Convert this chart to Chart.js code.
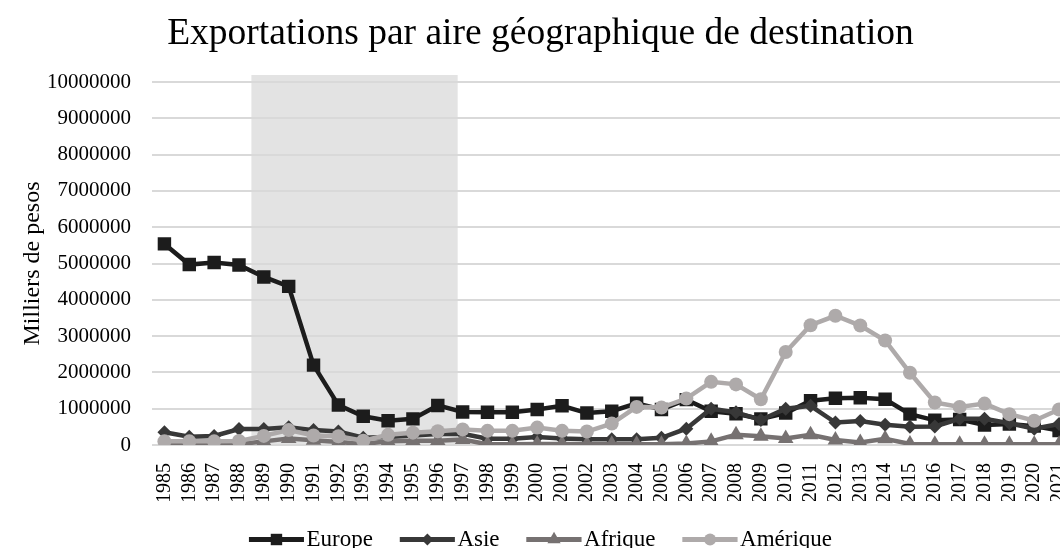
<!DOCTYPE html>
<html lang="fr">
<head>
<meta charset="utf-8">
<title>Exportations par aire géographique de destination</title>
<script src="https://cdn.jsdelivr.net/npm/chart.js@4/dist/chart.umd.min.js"></script>
<style>
  html, body { margin: 0; padding: 0; background: #fff; overflow: hidden; }
  #wrap { position: relative; width: 1081px; height: 561px; }
</style>
</head>
<body>
<div id="wrap"><canvas id="exportChart"></canvas></div>
<script>
// Années (axe X)
const annees = ['1985', '1986', '1987', '1988', '1989', '1990', '1991', '1992', '1993', '1994',
    '1995', '1996', '1997', '1998', '1999', '2000', '2001', '2002', '2003', '2004', '2005',
    '2006', '2007', '2008', '2009', '2010', '2011', '2012', '2013', '2014', '2015', '2016',
    '2017', '2018', '2019', '2020', '2021'];

// Exportations en milliers de pesos
const europe = [5540000, 4970000, 5030000, 4960000, 4630000, 4370000, 2200000, 1100000, 790000, 670000,
    720000, 1090000, 910000, 900000, 900000, 980000, 1080000, 880000, 930000, 1150000, 980000,
    1250000, 930000, 860000, 720000, 880000, 1220000, 1290000, 1300000, 1260000, 850000, 680000,
    700000, 550000, 580000, 520000, 400000];
const asie = [350000, 230000, 250000, 440000, 440000, 490000, 410000, 370000, 200000, 220000,
    260000, 300000, 310000, 170000, 170000, 220000, 180000, 160000, 160000, 160000, 200000,
    450000, 1000000, 900000, 690000, 1000000, 1080000, 620000, 660000, 560000, 500000, 510000,
    720000, 720000, 600000, 450000, 580000];
const afrique = [20000, 20000, 20000, 20000, 100000, 180000, 130000, 80000, 30000, 100000,
    120000, 120000, 150000, 20000, 20000, 30000, 30000, 20000, 20000, 20000, 20000,
    40000, 100000, 280000, 240000, 180000, 280000, 140000, 70000, 170000, 30000, 20000,
    20000, 20000, 20000, 20000, 20000];
const amerique = [100000, 100000, 100000, 110000, 250000, 410000, 260000, 240000, 120000, 280000,
    340000, 380000, 430000, 390000, 390000, 480000, 390000, 370000, 590000, 1050000, 1030000,
    1280000, 1740000, 1670000, 1260000, 2560000, 3300000, 3560000, 3290000, 2880000, 1990000, 1170000,
    1050000, 1140000, 850000, 670000, 980000];

// Période grisée (en positions de catégorie)
const periodeDebut = 3.5;
const periodeFin = 11.8;

const police = "'Liberation Serif', 'DejaVu Serif', serif";

function serie(label, data, couleur, style, rayon, ordre) {
    return {
        label: label,
        data: data,
        borderColor: couleur,
        backgroundColor: couleur,
        borderWidth: 4.5,
        pointStyle: style,
        pointRadius: rayon,
        pointHoverRadius: rayon,
        pointBackgroundColor: couleur,
        pointBorderColor: couleur,
        pointBorderWidth: 0,
        tension: 0,
        order: ordre
    };
}

// Zone grisée derrière la grille
const zoneGrisee = {
    id: 'zoneGrisee',
    beforeDraw(chart) {
        const x = chart.scales.x;
        const area = chart.chartArea;
        const ctx = chart.ctx;
        const x1 = x.getPixelForValue(periodeDebut);
        const x2 = x.getPixelForValue(periodeFin);
        ctx.save();
        ctx.fillStyle = '#e3e3e3';
        ctx.fillRect(x1, area.top - 7, x2 - x1, area.bottom - area.top + 7);
        ctx.restore();
    }
};

// Trait + marqueur de chaque entrée de légende
const marqueursLegende = {
    id: 'marqueursLegende',
    afterDraw(chart) {
        const legend = chart.legend;
        if (!legend || !legend.legendHitBoxes) return;
        const ctx = chart.ctx;
        const opts = legend.options.labels;
        const longueur = opts.boxWidth + 9;
        legend.legendHitBoxes.forEach((box, i) => {
            const item = legend.legendItems[i];
            const ds = chart.data.datasets[item.datasetIndex];
            const cx = box.left + longueur / 2;
            const cy = box.top + opts.font.size / 2;
            ctx.save();
            ctx.fillStyle = ds.borderColor;
            ctx.fillRect(box.left, cy - opts.boxHeight / 2, longueur, opts.boxHeight);
            Chart.helpers.drawPoint(ctx, {
                pointStyle: ds.pointStyle,
                radius: ds.pointRadius * 0.85,
                borderWidth: 0,
                rotation: 0
            }, cx, cy);
            ctx.restore();
        });
    }
};

const ctx = document.getElementById('exportChart').getContext('2d');
const exportChart = new Chart(ctx, {
    type: 'line',
    data: {
        labels: annees,
        datasets: [
            serie('Europe', europe, '#1c1c1c', 'rect', 9.5, 4),
            serie('Asie', asie, '#383838', 'rectRot', 7, 3),
            serie('Afrique', afrique, '#767171', 'triangle', 9, 2),
            serie('Amérique', amerique, '#aeaaaa', 'circle', 7, 1)
        ]
    },
    options: {
        responsive: true,
        maintainAspectRatio: false,
        animation: false,
        layout: { padding: { left: 0, right: 0, top: 0, bottom: 0 } },
        plugins: {
            tooltip: { enabled: false },
            title: {
                display: true,
                text: 'Exportations par aire géographique de destination',
                color: '#000',
                font: { family: police, size: 37.5, weight: 'normal' },
                padding: { top: 12, bottom: 25 }
            },
            legend: {
                position: 'bottom',
                labels: {
                    color: '#000',
                    font: { family: police, size: 23 },
                    boxWidth: 46,
                    boxHeight: 5,
                    padding: 27,
                    generateLabels: chart => chart.data.datasets.map((ds, i) => ({
                        text: ds.label,
                        fillStyle: ds.borderColor,
                        strokeStyle: ds.borderColor,
                        lineWidth: 0,
                        fontColor: '#000',
                        hidden: false,
                        datasetIndex: i
                    }))
                }
            }
        },
        scales: {
            x: {
                offset: true,
                grid: { display: false, drawTicks: false, offset: true },
                border: { display: false },
                ticks: {
                    color: '#000',
                    font: { family: police, size: 20 },
                    minRotation: 90,
                    maxRotation: 90,
                    autoSkip: false,
                    padding: 18
                },
                afterFit(scale) {
                    scale.height = 56;
                    scale.paddingRight = 0;
                    scale.paddingLeft = 0;
                }
            },
            y: {
                min: 0,
                max: 10000000,
                grid: { color: '#d9d9d9', lineWidth: 2, drawTicks: false },
                border: { display: false },
                ticks: {
                    stepSize: 1000000,
                    color: '#000',
                    font: { family: police, size: 21 },
                    padding: 21,
                    callback: v => String(v)
                },
                title: {
                    display: true,
                    text: 'Milliers de pesos',
                    color: '#000',
                    font: { family: police, size: 24 },
                    padding: { top: 18, bottom: 0 }
                },
                afterFit(scale) { scale.width = 152; }
            }
        }
    },
    plugins: [zoneGrisee, marqueursLegende]
});
</script>
</body>
</html>
